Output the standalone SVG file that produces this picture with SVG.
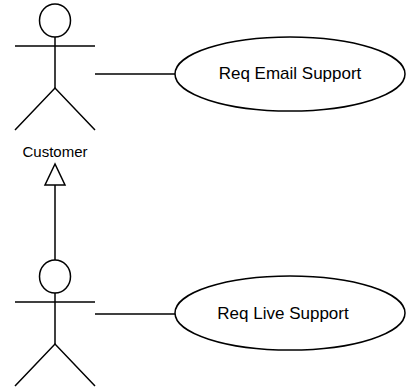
<svg xmlns="http://www.w3.org/2000/svg" width="407" height="390" viewBox="0 0 407 390">
<style>
.s{fill:none;stroke:#000;stroke-width:1.5}
.t{font-family:"Liberation Sans",Arial,sans-serif;fill:#000}
</style>
<rect width="407" height="390" fill="#fff"/>
<g id="customer">
<ellipse class="s" cx="55" cy="20.5" rx="15.5" ry="16.5"/>
<line class="s" x1="15" y1="46" x2="95" y2="46"/>
<line class="s" x1="55" y1="37" x2="55" y2="88"/>
<polyline class="s" points="15,130 55,88 95,130"/>
<text class="t" x="55" y="157" font-size="15" text-anchor="middle">Customer</text>
</g>
<g id="actor2">
<ellipse class="s" cx="55" cy="276.5" rx="15.5" ry="16.5"/>
<line class="s" x1="15" y1="302" x2="95" y2="302"/>
<line class="s" x1="55" y1="293" x2="55" y2="344"/>
<polyline class="s" points="15,386 55,344 95,386"/>
</g>
<g id="email">
<ellipse class="s" cx="290" cy="74" rx="115" ry="37"/>
<text class="t" x="290" y="79" font-size="17" text-anchor="middle">Req Email Support</text>
</g>
<g id="live">
<ellipse class="s" cx="290" cy="313" rx="115" ry="37"/>
<text class="t" x="283" y="319" font-size="17" text-anchor="middle">Req Live Support</text>
</g>
<g id="connectors">
<line class="s" x1="95" y1="74" x2="175" y2="74"/>
<line class="s" x1="95" y1="314" x2="175" y2="314"/>
<line class="s" x1="55" y1="185" x2="55" y2="260"/>
<polygon class="s" fill="#fff" style="fill:#fff" points="55,164 45,185 65,185"/>
</g>
</svg>
